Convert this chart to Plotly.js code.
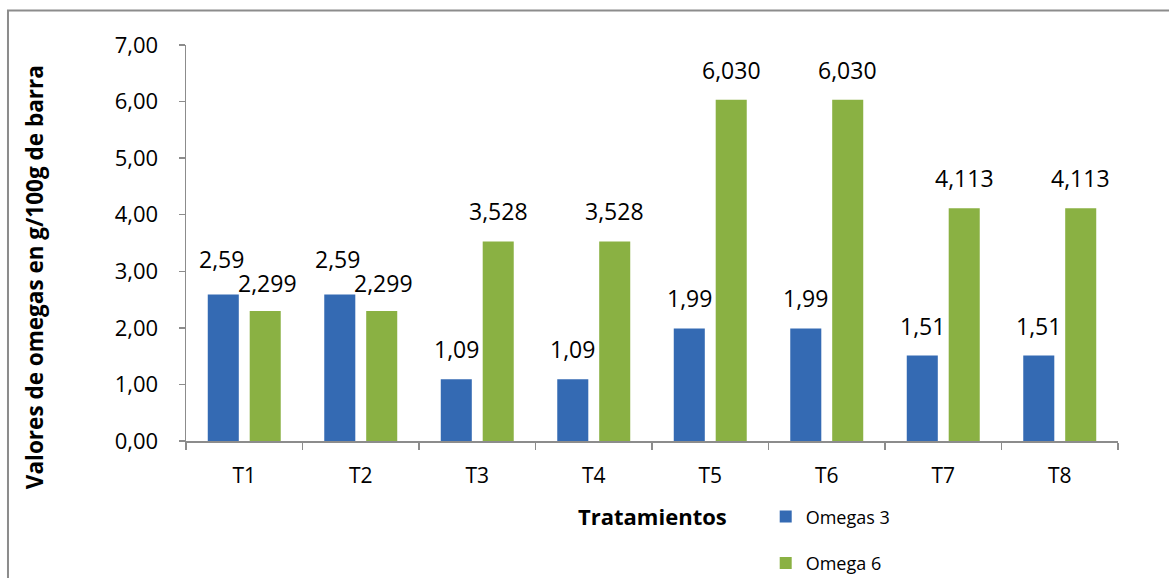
<!DOCTYPE html>
<html>
<head>
<meta charset="utf-8">
<script src="https://cdn.plot.ly/plotly-3.0.1.min.js"></script>
<style>html,body{margin:0;padding:0;background:#fff;}#chart{width:1169px;height:578px;}</style>
</head>
<body>
<div id="chart"></div>
<script>
const categories = ['T1','T2','T3','T4','T5','T6','T7','T8'];
const omegas3 = [2.59, 2.59, 1.09, 1.09, 1.99, 1.99, 1.51, 1.51];
const omega6 = [2.299, 2.299, 3.528, 3.528, 6.030, 6.030, 4.113, 4.113];
const seriesNames = ['Omegas 3', 'Omega 6'];
const yTicks = [0, 1, 2, 3, 4, 5, 6, 7];

const FONT = 'Open Sans, Noto Sans, sans-serif';
const blue = '#346ab3';
const green = '#8ab143';

const traces = [
  {type:'bar', name:seriesNames[0], x:categories, y:omegas3, marker:{color:blue}, legendgroup:'a', hoverinfo:'y'},
  {type:'bar', name:seriesNames[1], x:categories, y:omega6, marker:{color:green}, legendgroup:'b', hoverinfo:'y'}
];

const fmt = (v, d) => v.toFixed(d).replace('.', ',');
const annotations = [];
categories.forEach((c, i) => {
  // when the two labels of a group sit at nearly the same height, lift the left one a little so they do not collide
  const close = Math.abs(omegas3[i] - omega6[i]) < 0.45;
  annotations.push({x:c, y:omegas3[i], xref:'x', yref:'y', text:fmt(omegas3[i],2), showarrow:false,
    xshift:close ? -23 : -21, yshift:close ? 17 : 12, yanchor:'bottom', font:{family:FONT, size:23, color:'#000'}});
  annotations.push({x:c, y:omega6[i], xref:'x', yref:'y', text:fmt(omega6[i],3), showarrow:false,
    xshift:close ? 23 : 21, yshift:close ? 10 : 12, yanchor:'bottom', font:{family:FONT, size:23, color:'#000'}});
});
annotations.push({xref:'paper', yref:'paper', x:-0.163, y:0.414, text:'<b>Valores de omegas en g/100g de barra</b>',
  textangle:-90, showarrow:false, font:{family:FONT, size:22.5, color:'#000'}, xanchor:'center', yanchor:'middle'});
annotations.push({xref:'paper', yref:'paper', x:0.5, y:-0.19, text:'<b>Tratamientos</b>',
  showarrow:false, font:{family:FONT, size:22, color:'#000'}, xanchor:'center', yanchor:'middle'});

const layout = {
  width:1169, height:578,
  margin:{l:186, r:51, t:45, b:137, autoexpand:false},
  paper_bgcolor:'#fff', plot_bgcolor:'#fff',
  separators:',.',
  barmode:'group', bargap:0.28, bargroupgap:0.26,
  showlegend:true,
  legend:{x:0.622, y:-0.145, xanchor:'left', yanchor:'top', orientation:'v', tracegroupgap:20,
    font:{family:FONT, size:18, color:'#000'}, bgcolor:'rgba(0,0,0,0)'},
  xaxis:{type:'category', showline:true, linecolor:'#8c8c8c', linewidth:1.5, ticks:'outside', tickson:'boundaries',
    ticklen:7, tickcolor:'#8c8c8c', tickwidth:1.5, showgrid:false, zeroline:false,
    tickfont:{family:FONT, size:21, color:'#000'}, ticklabelstandoff:15},
  yaxis:{range:[0,7], tickvals:yTicks, tickformat:'.2f', showline:true, linecolor:'#8c8c8c', linewidth:1.5,
    ticks:'outside', ticklen:6, tickcolor:'#8c8c8c', tickwidth:1.5, showgrid:false, zeroline:false,
    tickfont:{family:FONT, size:22, color:'#000'}, ticklabelstandoff:16},
  annotations:annotations,
  shapes:[{type:'rect', xref:'paper', yref:'paper', x0:-0.191, x1:1.08, y0:-0.4, y1:1.087,
    line:{color:'#8c8c8c', width:2}, fillcolor:'rgba(0,0,0,0)', layer:'below'}]
};

Plotly.newPlot('chart', traces, layout, {displayModeBar:false, staticPlot:true});
</script>
</body>
</html>
